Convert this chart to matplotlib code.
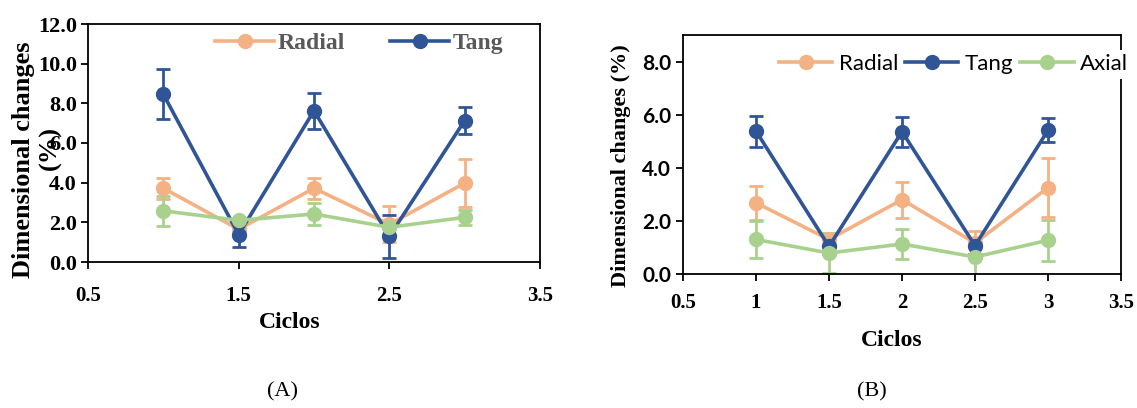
import numpy as np
import matplotlib.pyplot as plt

# Datos (leidos da figura)
ciclos = [1, 1.5, 2, 2.5, 3]

# Painel A
radial_a = [3.72, 1.65, 3.72, 1.90, 3.98]
radial_a_err = [0.53, 0.20, 0.53, 0.90, 1.22]
tang_a = [8.46, 1.38, 7.63, 1.29, 7.13]
tang_a_err = [1.27, 0.60, 0.90, 1.10, 0.67]
axial_a = [2.58, 2.10, 2.42, 1.75, 2.25]
axial_a_err = [0.75, 0.10, 0.55, 0.10, 0.37]

# Painel B
radial_b = [2.68, 1.30, 2.80, 1.17, 3.25]
radial_b_err = [0.63, 0.25, 0.68, 0.45, 1.10]
tang_b = [5.38, 1.04, 5.36, 1.07, 5.41]
tang_b_err = [0.58, 0.30, 0.57, 0.30, 0.45]
axial_b = [1.30, 0.79, 1.13, 0.64, 1.27]
axial_b_err = [0.68, 0.77, 0.55, 0.70, 0.78]

xticks_a = [0.5, 1.5, 2.5, 3.5]
yticks_a = [0, 2, 4, 6, 8, 10, 12]
xticks_b = [0.5, 1, 1.5, 2, 2.5, 3, 3.5]
yticks_b = [0, 2, 4, 6, 8]

c_radial = '#F4B183'
c_tang = '#2F5597'
c_axial = '#A9D18E'

serif = 'Liberation Serif'
sans = 'Lato'


def serie(ax, y, err, cor, nome):
    c = ax.errorbar(ciclos, y, yerr=err, color=cor, marker='o', markersize=10,
                    linewidth=2.6, elinewidth=2, capsize=5, capthick=2, label=nome)
    return c[0]  # so a linha com marcador, para a legenda


def fontes(labels, familia, tam):
    for lab in labels:
        lab.set_fontfamily(familia)
        lab.set_fontweight('bold')
        lab.set_fontsize(tam)


fig = plt.figure(figsize=(11.37, 4.08), dpi=100)

# ---------- (A)
ax1 = fig.add_axes([88/1137, 1 - 262/408, 452/1137, 238/408])
h_r = serie(ax1, radial_a, radial_a_err, c_radial, 'Radial')
h_t = serie(ax1, tang_a, tang_a_err, c_tang, 'Tang')
serie(ax1, axial_a, axial_a_err, c_axial, 'Axial')
ax1.set_xlim(0.5, 3.5)
ax1.set_ylim(0, 12)
ax1.set_xticks(xticks_a)
ax1.set_xticklabels(['%g' % v for v in xticks_a])
ax1.set_yticks(yticks_a)
ax1.set_yticklabels(['%.1f' % v for v in yticks_a])
fontes(ax1.get_yticklabels(), serif, 16)
fontes(ax1.get_xticklabels(), serif, 15)
ax1.tick_params(axis='both', direction='out', length=5, width=1.3)
ax1.tick_params(axis='y', pad=3)
ax1.tick_params(axis='x', pad=12)
for s in ax1.spines.values():
    s.set_linewidth(1.3)
leg1 = ax1.legend([h_r, h_t], ['Radial', 'Tang'], loc='center', bbox_to_anchor=(0.60, 0.92),
                  ncol=2, frameon=False, handlelength=2.5, handletextpad=0.15,
                  columnspacing=1.9, prop={'family': serif, 'weight': 'bold', 'size': 17})
for t in leg1.get_texts():
    t.set_color('#595959')

fig.text(24/1137, 1 - 160/408, 'Dimensional changes', rotation=90, ha='center', va='center',
         family=serif, weight='bold', fontsize=19)
fig.text(50/1137, 1 - 148/408, '(%)', rotation=90, ha='center', va='center',
         family=serif, weight='bold', fontsize=19)
fig.text(290/1137, 1 - 323/408, 'Ciclos', ha='center', va='center',
         family=serif, weight='bold', fontsize=17)
fig.text(283/1137, 1 - 392/408, '(A)', ha='center', va='center', family=serif, fontsize=16)

# ---------- (B)
ax2 = fig.add_axes([683/1137, 1 - 274/408, 438/1137, 239/408])
hb = [serie(ax2, radial_b, radial_b_err, c_radial, 'Radial'),
      serie(ax2, tang_b, tang_b_err, c_tang, 'Tang'),
      serie(ax2, axial_b, axial_b_err, c_axial, 'Axial')]
ax2.set_xlim(0.5, 3.5)
ax2.set_ylim(0, 9)
ax2.set_xticks(xticks_b)
ax2.set_xticklabels(['%g' % v for v in xticks_b])
ax2.set_yticks(yticks_b)
ax2.set_yticklabels(['%.1f' % v for v in yticks_b])
fontes(ax2.get_yticklabels(), sans, 15)
fontes(ax2.get_xticklabels(), serif, 15)
ax2.tick_params(axis='both', direction='out', length=5, width=1.3)
ax2.tick_params(axis='x', pad=9)
for s in ax2.spines.values():
    s.set_linewidth(1.3)
ax2.legend(hb, ['Radial', 'Tang', 'Axial'], loc='center', bbox_to_anchor=(0.618, 0.878),
           ncol=3, frameon=True, facecolor='white', edgecolor='none', framealpha=1,
           fancybox=False, handlelength=2.4, handletextpad=0.3, columnspacing=0.3,
           borderpad=0.2, prop={'family': sans, 'size': 16})

fig.text(621/1137, 1 - 166/408, 'Dimensional changes (%)', rotation=90, ha='center', va='center',
         family=serif, weight='bold', fontsize=16)
fig.text(892/1137, 1 - 341/408, 'Ciclos', ha='center', va='center',
         family=serif, weight='bold', fontsize=17)
fig.text(872/1137, 1 - 392/408, '(B)', ha='center', va='center', family=serif, fontsize=16)

fig.savefig('out.png', dpi=100)
